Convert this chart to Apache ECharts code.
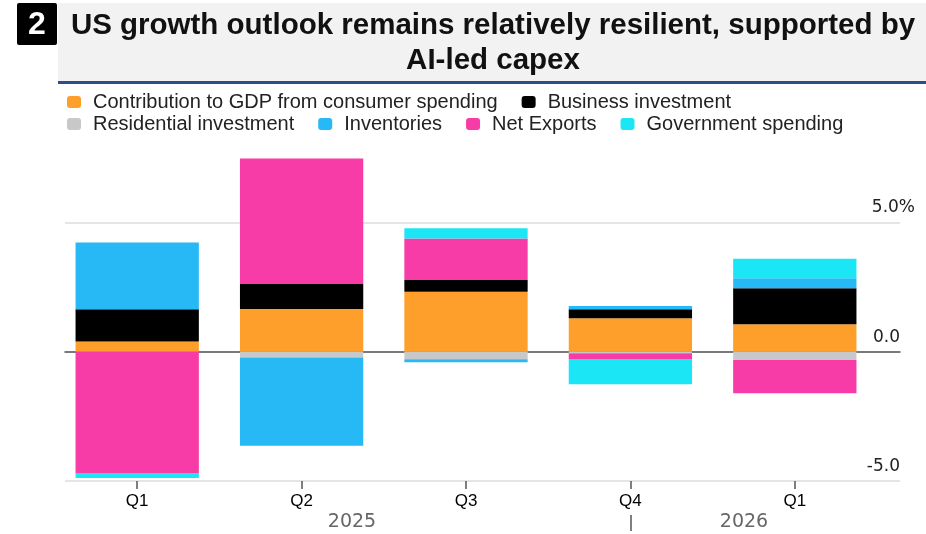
<!DOCTYPE html>
<html>
<head>
<meta charset="utf-8">
<script src="https://cdn.jsdelivr.net/npm/echarts@6/dist/echarts.min.js"></script>
<style>
  html, body { margin: 0; padding: 0; background: #ffffff; }
  #chart { width: 926px; height: 534px; }
</style>
</head>
<body>
<div id="chart"></div>
<script>
// ---- data ----
const categories = ['Q1', 'Q2', 'Q3', 'Q4', 'Q1'];
const yearLabels = ['2025', '2026'];
const seriesNames = [
  'Contribution to GDP from consumer spending',
  'Business investment',
  'Residential investment',
  'Inventories',
  'Net Exports',
  'Government spending'
];
const consumer    = [0.39, 1.65, 2.32, 1.29, 1.06];
const business    = [1.25, 0.99, 0.45, 0.35, 1.39];
const residential = [0.00, -0.22, -0.29, -0.06, -0.32];
const inventories = [2.58, -3.42, -0.12, 0.13, 0.39];
const netExports  = [-4.69, 4.83, 1.61, -0.22, -1.29];
const government  = [-0.19, 0.00, 0.39, -0.98, 0.75];
const yMin = -5, yMax = 5, yStep = 5;

const colors = ['#FE9E2B', '#000000', '#C8C8C8', '#27B9F6', '#F83CA7', '#1AE6F5'];
const values = [consumer, business, residential, inventories, netExports, government];

const chart = echarts.init(document.getElementById('chart'), null, { renderer: 'canvas' });

const legendText = { fontFamily: 'Liberation Sans, Arial, sans-serif', fontSize: 20, color: '#222', padding: [0, 0, 0, 7] };

const option = {
  animation: false,
  backgroundColor: '#ffffff',
  graphic: [
    { type: 'rect', shape: { x: 58, y: 3, width: 868, height: 78 }, style: { fill: '#f2f2f2' }, silent: true },
    { type: 'rect', shape: { x: 58, y: 81, width: 868, height: 3 }, style: { fill: '#2d4e8a' }, silent: true },
    { type: 'rect', shape: { x: 17, y: 3, width: 40, height: 42, r: 2 }, style: { fill: '#000' }, silent: true },
    { type: 'text', x: 37, y: 25, style: { text: '2', fill: '#fff', font: 'bold 32px Liberation Sans', align: 'center', verticalAlign: 'middle' }, silent: true },
    { type: 'text', x: 493, y: 26, style: { text: 'US growth outlook remains relatively resilient, supported by', fill: '#111', font: 'bold 29.5px Liberation Sans', align: 'center', verticalAlign: 'middle' }, silent: true },
    { type: 'text', x: 493, y: 61, style: { text: 'AI-led capex', fill: '#111', font: 'bold 29.5px Liberation Sans', align: 'center', verticalAlign: 'middle' }, silent: true },
    { type: 'text', x: 352, y: 522, style: { text: yearLabels[0], fill: '#666', font: '19px DejaVu Sans', align: 'center', verticalAlign: 'middle' }, silent: true },
    { type: 'text', x: 744, y: 522, style: { text: yearLabels[1], fill: '#666', font: '19px DejaVu Sans', align: 'center', verticalAlign: 'middle' }, silent: true },
    { type: 'line', shape: { x1: 631, y1: 515, x2: 631, y2: 531 }, style: { stroke: '#555', lineWidth: 1.5 }, silent: true }
  ],
  legend: [
    {
      data: seriesNames.slice(0, 2),
      left: 62, top: 87, itemWidth: 14, itemHeight: 12, itemGap: 24, icon: 'roundRect',
      selectedMode: false, textStyle: legendText
    },
    {
      data: seriesNames.slice(2),
      left: 62, top: 109, itemWidth: 14, itemHeight: 12, itemGap: 24, icon: 'roundRect',
      selectedMode: false, textStyle: legendText
    }
  ],
  grid: [
    { left: 55, right: 49, top: 144.8, bottom: 53, containLabel: false },
    { left: 65, right: 26, top: 222.3, bottom: 53, containLabel: false }
  ],
  xAxis: [
    {
      type: 'category', gridIndex: 0, data: categories,
      axisLine: { show: false, onZero: false },
      axisTick: { show: true, alignWithLabel: true, length: 8, lineStyle: { color: '#555', width: 1.5 } },
      axisLabel: { margin: 12, fontFamily: 'Liberation Sans, Arial, sans-serif', fontSize: 17, color: '#000' },
      splitLine: { show: false }
    },
    {
      type: 'category', gridIndex: 1, data: categories,
      axisLine: { show: true, onZero: true, lineStyle: { color: '#555', width: 1.5 } },
      axisTick: { show: false }, axisLabel: { show: false }, splitLine: { show: false }
    }
  ],
  yAxis: [
    { type: 'value', gridIndex: 0, min: yMin, max: 8, show: false, splitLine: { show: false } },
    {
      type: 'value', gridIndex: 1, min: yMin, max: yMax, interval: yStep, position: 'right',
      axisLine: { show: false }, axisTick: { show: false },
      splitLine: { show: true, lineStyle: { color: '#dcdcdc', width: 1.5 } },
      axisLabel: {
        align: 'right', margin: 15, verticalAlign: 'bottom', padding: [0, 0, 6, 0],
        fontFamily: 'DejaVu Sans', fontSize: 17, color: '#222',
        formatter: function (v) {
          return v === yMax ? '{p|' + v.toFixed(1) + '%}' : '{n|' + v.toFixed(1) + '}';
        },
        rich: {
          p: { fontFamily: 'DejaVu Sans', fontSize: 17, color: '#222' },
          n: { fontFamily: 'DejaVu Sans', fontSize: 17, color: '#222', padding: [0, 15, 0, 0] }
        }
      }
    }
  ],
  series: seriesNames.map(function (name, i) {
    return {
      name: name, type: 'bar', stack: 'gdp', xAxisIndex: 0, yAxisIndex: 0,
      barWidth: '75%', data: values[i],
      itemStyle: { color: colors[i] }
    };
  })
};

chart.setOption(option);
</script>
</body>
</html>
